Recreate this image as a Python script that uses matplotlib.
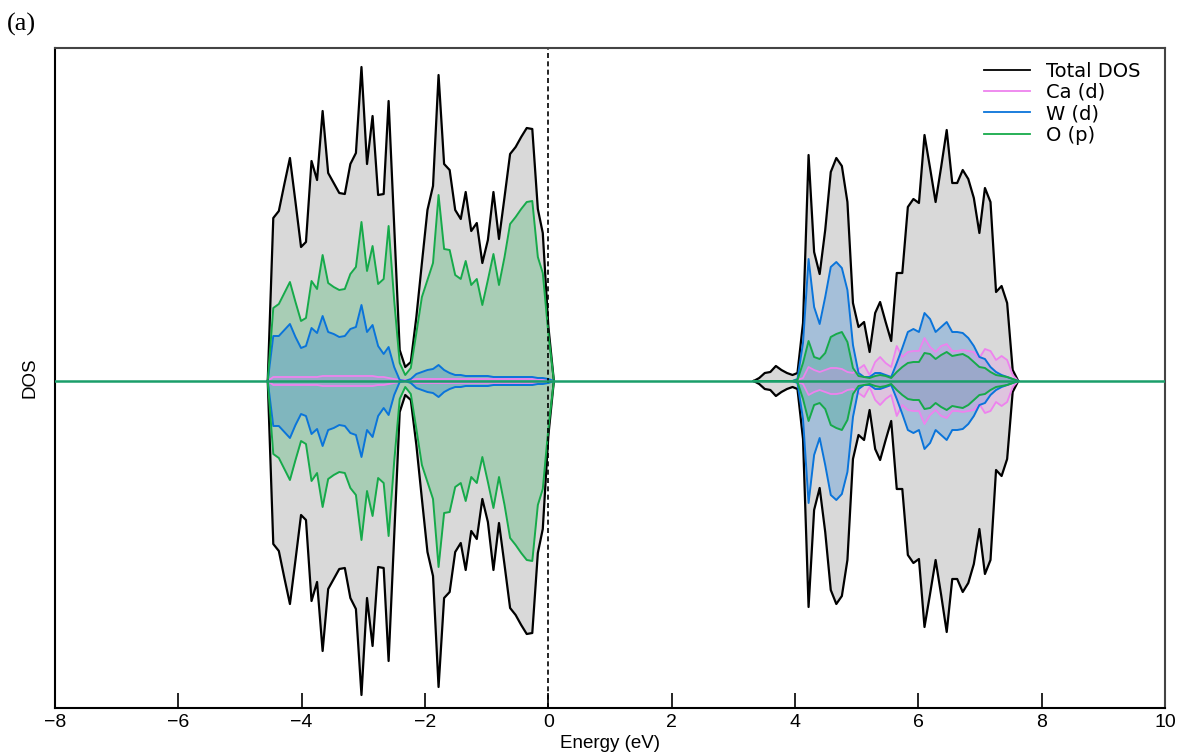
"""Spin-resolved total and partial DOS of CaWO4 (panel a)."""

import matplotlib.pyplot as plt

# energy grids (eV) for the valence and conduction band
e_val = [-4.55, -4.46, -4.37, -4.28, -4.19, -4.10, -4.01, -3.93, -3.84, -3.75,
         -3.66, -3.57, -3.48, -3.39, -3.30, -3.21, -3.12, -3.03, -2.94, -2.85,
         -2.76, -2.67, -2.59, -2.50, -2.41, -2.32, -2.23, -2.14, -2.05, -1.96,
         -1.87, -1.78, -1.69, -1.60, -1.51, -1.42, -1.34, -1.25, -1.16, -1.07,
         -0.98, -0.89, -0.80, -0.71, -0.62, -0.53, -0.44, -0.35, -0.26, -0.17,
         -0.09, 0.00, 0.09]
e_con = [3.33, 3.42, 3.51, 3.60, 3.69, 3.78, 3.87, 3.96, 4.04, 4.13,
         4.22, 4.31, 4.40, 4.49, 4.58, 4.67, 4.76, 4.85, 4.94, 5.03,
         5.12, 5.21, 5.30, 5.38, 5.47, 5.56, 5.65, 5.74, 5.83, 5.92,
         6.01, 6.10, 6.19, 6.28, 6.37, 6.46, 6.55, 6.63, 6.72, 6.81,
         6.90, 6.99, 7.08, 7.17, 7.26, 7.35, 7.44, 7.53, 7.62]

# DOS (arb. units), spin up; spin down is the mirror image
tot_val = [0, 163, 170, 197, 223, 179, 134, 139, 220, 201,
           270, 208, 198, 188, 187, 217, 228, 314, 217, 265,
           186, 187, 280, 156, 31, 14, 19, 64, 118, 171,
           195, 306, 217, 211, 171, 162, 189, 150, 158, 118,
           141, 189, 142, 184, 227, 234, 244, 253, 252, 172,
           148, 55, 0]
ca_val = [0, 4, 4, 4, 4, 4, 4, 4, 4, 4,
          5, 5, 5, 5, 5, 5, 5, 5, 5, 5,
          4, 4, 3, 2, 1, 1, 1, 2, 2, 2,
          2, 2, 2, 2, 2, 2, 2, 2, 2, 2,
          2, 2, 2, 2, 2, 2, 2, 2, 2, 2,
          1, 1, 0]
w_val = [0, 45, 45, 51, 57, 44, 33, 35, 53, 48,
         65, 49, 47, 44, 45, 52, 54, 76, 49, 56,
         35, 27, 34, 14, 1, 0, 2, 7, 9, 11,
         12, 16, 11, 8, 6, 6, 5, 5, 5, 5,
         5, 4, 4, 4, 4, 4, 4, 4, 4, 3,
         3, 2, 0]
o_val = [0, 73, 77, 88, 99, 79, 60, 63, 100, 92,
         126, 98, 94, 91, 92, 107, 114, 159, 110, 135,
         97, 102, 155, 81, 18, 6, 13, 48, 84, 101,
         118, 186, 132, 131, 106, 102, 120, 96, 102, 76,
         101, 127, 96, 124, 157, 164, 172, 179, 180, 124,
         108, 48, 0]

tot_con = [0, 3, 8, 9, 15, 11, 8, 6, 8, 58,
           226, 129, 107, 151, 209, 223, 215, 179, 78, 54,
           59, 29, 68, 79, 59, 40, 108, 108, 174, 182,
           178, 246, 213, 179, 214, 251, 198, 198, 211, 202,
           183, 148, 193, 179, 89, 95, 78, 11, 0]
ca_con = [0, 0, 0, 0, 0, 0, 0, 0, 1, 3,
          14, 11, 9, 11, 13, 13, 12, 9, 8, 12,
          16, 6, 19, 24, 18, 14, 35, 24, 29, 30,
          30, 43, 34, 29, 35, 37, 30, 30, 31, 30,
          29, 23, 32, 30, 21, 25, 21, 6, 0]
w_con = [0, 0, 0, 0, 0, 0, 0, 0, 2, 38,
         122, 74, 57, 84, 114, 119, 113, 91, 36, 8,
         4, 4, 8, 8, 6, 4, 18, 33, 49, 52,
         49, 68, 62, 49, 54, 59, 49, 49, 48, 43,
         35, 24, 22, 14, 9, 6, 4, 2, 0]
o_con = [0, 0, 0, 0, 0, 0, 0, 0, 1, 18,
         40, 24, 22, 28, 44, 47, 49, 39, 13, 5,
         4, 3, 5, 6, 5, 3, 9, 14, 18, 19,
         19, 28, 27, 22, 26, 29, 25, 26, 27, 24,
         19, 14, 13, 9, 6, 5, 4, 2, 0]

C_TOT = 'black'
C_CA = '#ee82ee'
C_W = '#0a74da'
C_O = '#16aa4a'

fig = plt.figure(figsize=(11.9, 7.56), dpi=100)
ax = fig.add_axes([0.0462, 0.0635, 0.9328, 0.873])

for e, tot, ca, w, o in [(e_val, tot_val, ca_val, w_val, o_val),
                         (e_con, tot_con, ca_con, w_con, o_con)]:
    for sign in (1, -1):
        t = [sign * v for v in tot]
        c = [sign * v for v in ca]
        ww = [sign * v for v in w]
        oo = [sign * v for v in o]
        ax.fill_between(e, 0, t, color='#d9d9d9', lw=0)
        ax.fill_between(e, 0, oo, color=C_O, alpha=0.25, lw=0)
        ax.fill_between(e, 0, ww, color=C_W, alpha=0.25, lw=0)
        ax.fill_between(e, 0, c, color=C_CA, alpha=0.25, lw=0)
        ax.plot(e, t, color=C_TOT, lw=1.6)
        ax.plot(e, c, color=C_CA, lw=1.3)
        ax.plot(e, ww, color=C_W, lw=1.4)
        ax.plot(e, oo, color=C_O, lw=1.4)

ax.axhline(0, color='#1a9e6a', lw=1.8, zorder=5)
ax.axvline(0, color='black', ls='--', lw=1.2, dashes=(3, 2))

# legend handles
ax.plot([], [], color=C_TOT, lw=1.3, label='Total DOS')
ax.plot([], [], color=C_CA, lw=1.3, label='Ca (d)')
ax.plot([], [], color=C_W, lw=1.3, label='W (d)')
ax.plot([], [], color=C_O, lw=1.3, label='O (p)')
handles, labels = ax.get_legend_handles_labels()
ax.legend(handles[-4:], labels[-4:], loc='upper right', frameon=False,
          handlelength=2.4, handletextpad=0.8, labelspacing=0.12,
          bbox_to_anchor=(0.99, 1.0), borderaxespad=0.3,
          prop={'family': 'DejaVu Sans', 'size': 14})

ax.set_xlim(-8, 10)
ax.set_ylim(-327, 333)
ax.set_xticks(range(-8, 11, 2))
ax.set_xticklabels(['\u22128', '\u22126', '\u22124', '\u22122', '0', '2', '4', '6', '8', '10'],
                   family='Liberation Sans', fontsize=14)
ax.set_yticks([])
ax.tick_params(axis='x', direction='in', length=11, width=1.2, pad=4)
ax.set_xlabel('Energy (eV)', family='Liberation Sans', fontsize=13.5, labelpad=3)
ax.set_ylabel('DOS', family='Liberation Sans', fontsize=13.5, labelpad=12)
for s in ('left', 'bottom'):
    ax.spines[s].set_linewidth(1.5)
    ax.spines[s].set_color('black')
for s in ('top', 'right'):
    ax.spines[s].set_linewidth(1.5)
    ax.spines[s].set_color('#444444')

fig.text(0.006, 0.96, '(a)', family='Liberation Serif', fontsize=19)

fig.savefig('out.png', dpi=100)
